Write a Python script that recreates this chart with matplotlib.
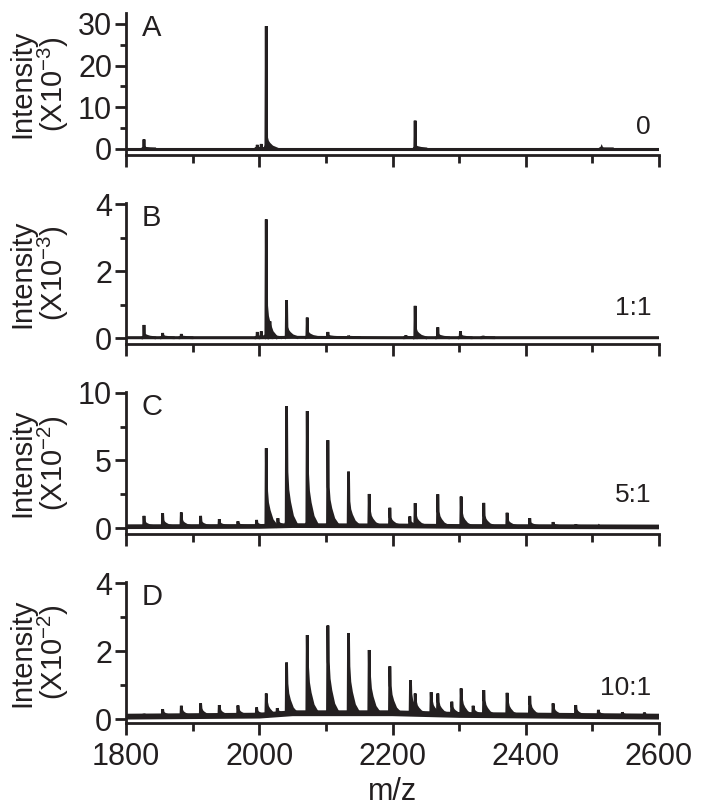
import numpy as np
import matplotlib
matplotlib.use('Agg')
import matplotlib.pyplot as plt
from matplotlib.ticker import MultipleLocator, FixedLocator

plt.rcParams['font.family'] = ['Liberation Sans', 'DejaVu Sans']
plt.rcParams['mathtext.fontset'] = 'custom'
plt.rcParams['mathtext.rm'] = 'Liberation Sans'
plt.rcParams['mathtext.it'] = 'Liberation Sans:italic'

INK = '#231f20'

# ---------------- data ----------------
panel_letters = ['A', 'B', 'C', 'D']
ratio_labels = ['0', '1:1', '5:1', '10:1']
exponents = ['-3', '-3', '-2', '-2']
y_tick_step = [10, 2, 5, 2]
y_minor_step = [5, 1, 2.5, 1]
x_ticks = [1800, 2000, 2200, 2400, 2600]
x_label = 'm/z'
y_label = 'Intensity'

a_mz = [1827, 1997, 2003, 2010.5, 2234, 2514]
a_int = [2.3, 1.0, 1.2, 29.5, 6.8, 0.3]

b_mz = [1827, 1855, 1883, 1997, 2003, 2010.5, 2016, 2041, 2072, 2103, 2134,
        2220, 2234, 2268, 2302, 2336]
b_int = [0.39, 0.15, 0.12, 0.18, 0.2, 3.54, 0.5, 1.13, 0.61, 0.18, 0.07,
         0.08, 0.96, 0.32, 0.2, 0.06]

c_mz = [1827, 1855, 1883, 1912, 1940, 1968, 1996, 2010.5, 2028, 2041, 2072,
        2103, 2134, 2165, 2196, 2226, 2234, 2268, 2303, 2337, 2372, 2406,
        2441, 2475, 2510]
c_int = [0.9, 1.1, 1.15, 0.9, 0.66, 0.5, 0.6, 5.9, 0.73, 9.0, 8.65,
         6.5, 4.17, 2.52, 1.5, 0.86, 1.84, 2.5, 2.33, 1.86, 1.13, 0.73,
         0.44, 0.27, 0.15]

d_mz = [1827, 1855, 1883, 1912, 1940, 1968, 1996, 2010.5, 2027, 2041, 2072,
        2103, 2134, 2165, 2196, 2227, 2234, 2258, 2268, 2289, 2303, 2321,
        2337, 2372, 2406, 2441, 2475, 2509, 2545, 2578]
d_int = [0.15, 0.29, 0.39, 0.46, 0.41, 0.4, 0.34, 0.75, 0.32, 1.66, 2.47,
         2.75, 2.53, 2.03, 1.55, 1.14, 0.75, 0.79, 0.75, 0.51, 0.9, 0.39,
         0.85, 0.77, 0.68, 0.46, 0.41, 0.27, 0.2, 0.19]

# baseline level at a few m/z knots
base_mz = [1800, 2000, 2050, 2200, 2300, 2600]
a_base = [0.05, 0.05, 0.05, 0.05, 0.05, 0.05]
b_base = [0.01, 0.01, 0.02, 0.01, 0.01, 0.01]
c_base = [0.1, 0.12, 0.18, 0.16, 0.12, 0.08]
d_base = [0.07, 0.1, 0.17, 0.17, 0.12, 0.07]

peak_mz = [a_mz, b_mz, c_mz, d_mz]
peak_int = [a_int, b_int, c_int, d_int]
baselines = [a_base, b_base, c_base, d_base]

# ---------------- style ----------------
W, H = 704, 810
fig = plt.figure(figsize=(W / 100, H / 100), dpi=100)

left_px, right_px = 126, 659
panel_px = [(13, 155), (203, 344), (392, 534), (582, 723)]
ylims = [(-1.44, 32.64), (-0.178, 4.03), (-0.44, 10.06), (-0.117, 4.03)]
tail_scale = [0.2, 0.6, 1.0, 1.3]
base_lw = [2.2, 2.2, 3.4, 4.2]
ratio_y = [0.197, 0.255, 0.275, 0.248]

shape_dx = np.array([-2.0, -0.6, 0.0, 0.6, 2.0, 4.5, 9.0, 16.0])
shape_core = np.array([0.0, 0.03, 1.0, 0.0, 0.0, 0.0, 0.0, 0.0])
shape_tail = np.array([0.0, 0.0, 0.0, 0.45, 0.3, 0.2, 0.08, 0.0])

axes = []
for i in range(4):
    top, bot = panel_px[i]
    ax = fig.add_axes([left_px / W, 1 - bot / H, (right_px - left_px) / W, (bot - top) / H])
    axes.append(ax)
    ax.plot(base_mz, baselines[i], color=INK, lw=base_lw[i],
            solid_capstyle='butt')
    frac = shape_core + tail_scale[i] * shape_tail
    for m, h in zip(peak_mz[i], peak_int[i]):
        b = np.interp(m, base_mz, baselines[i])
        xs = m + shape_dx
        ys = b + (h - b) * frac
        ax.fill(xs, ys, color=INK, lw=0)
        ax.plot(xs, ys, color=INK, lw=2.0, solid_joinstyle='miter')
    ax.set_xlim(1800, 2600)
    ax.set_ylim(*ylims[i])
    ax.xaxis.set_major_locator(FixedLocator(x_ticks))
    ax.xaxis.set_minor_locator(MultipleLocator(100))
    ax.yaxis.set_major_locator(MultipleLocator(y_tick_step[i]))
    ax.yaxis.set_minor_locator(MultipleLocator(y_minor_step[i]))
    for s in ['top', 'right']:
        ax.spines[s].set_visible(False)
    for s in ['left', 'bottom']:
        ax.spines[s].set_linewidth(2.0)
        ax.spines[s].set_color(INK)
    ax.tick_params(axis='both', which='major', direction='out', width=2.0,
                   color=INK, labelcolor=INK, labelsize=22)
    ax.tick_params(axis='x', which='major', length=8.5, pad=5)
    ax.tick_params(axis='y', which='major', length=8, pad=2)
    ax.tick_params(axis='x', which='minor', direction='out', length=5.5, width=2.0, color=INK)
    ax.tick_params(axis='y', which='minor', direction='out', length=4.5, width=2.0, color=INK)
    if i < 3:
        ax.tick_params(axis='x', labelbottom=False)
    ax.text(0.03, 0.995, panel_letters[i], transform=ax.transAxes, ha='left',
            va='top', fontsize=21, color=INK)
    ax.text(0.985, ratio_y[i], ratio_labels[i], transform=ax.transAxes,
            ha='right', va='center', fontsize=19, color=INK)
    yc = 1 - (top + bot) / 2 / H
    fig.text(22 / W, yc, y_label, rotation=90, ha='center', va='center',
             fontsize=21, color=INK)
    fig.text(53 / W, yc, r'(X10$^{\mathregular{%s}}$)' % exponents[i],
             rotation=90, ha='center', va='center', fontsize=21, color=INK)

axes[-1].set_xlabel(x_label, fontsize=22, color=INK, labelpad=4)

fig.savefig('out.png', dpi=100)
